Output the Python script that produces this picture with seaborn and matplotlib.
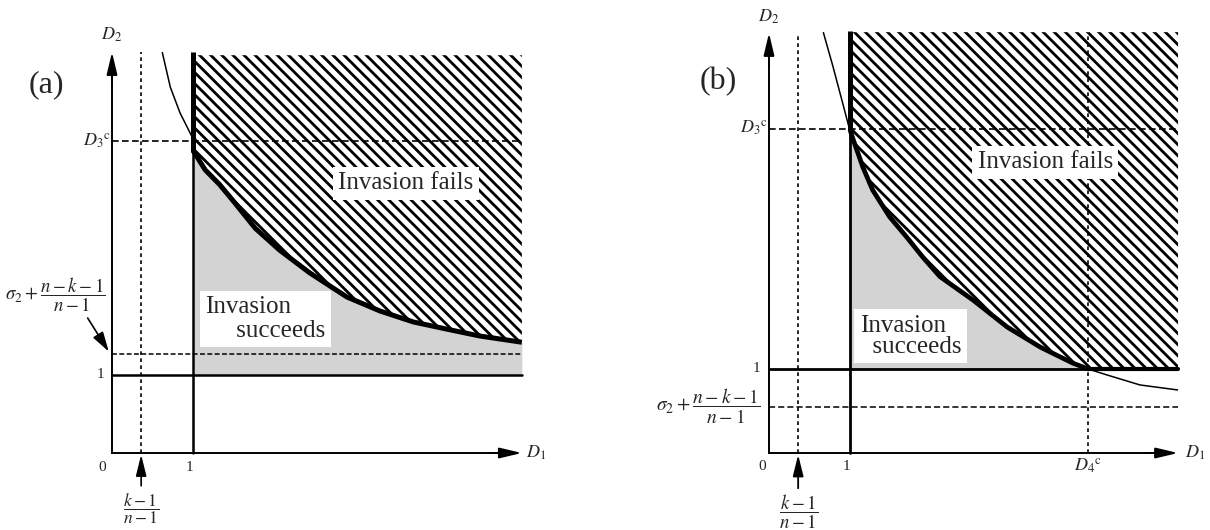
import matplotlib
matplotlib.use("Agg")
import matplotlib.pyplot as plt
import seaborn as sns
import pandas as pd

# ---------------- data ----------------
# panel (a)
a_thin_x = [0.62, 0.72, 0.84, 0.99]
a_thin_y = [5.14, 4.69, 4.36, 4.05]
a_thick_x = [1.00, 1.15, 1.33, 1.49, 1.77, 2.07, 2.44, 2.90, 3.31, 3.72, 4.17, 4.54, 5.06]
a_thick_y = [3.88, 3.63, 3.44, 3.24, 2.88, 2.60, 2.31, 2.00, 1.82, 1.68, 1.58, 1.50, 1.42]
a_D3c = 4.0
a_sigma = 1.27
a_kfrac = 0.36
a_xmax = 5.06
a_ymax = 5.14

# panel (b)
b_thin_x = [0.67, 0.79, 0.90, 0.99]
b_thin_y = [5.01, 4.60, 4.20, 3.87]
b_thick_x = [1.00, 1.04, 1.16, 1.28, 1.49, 1.70, 1.90, 2.11, 2.52, 2.94, 3.35, 3.75, 3.94]
b_thick_y = [3.85, 3.73, 3.40, 3.13, 2.81, 2.57, 2.33, 2.10, 1.82, 1.50, 1.26, 1.07, 1.00]
b_tail_x = [3.94, 4.17, 4.58, 5.05]
b_tail_y = [1.00, 0.93, 0.81, 0.75]
b_D3c = 3.86
b_D4c = 3.94
b_sigma = 0.55
b_kfrac = 0.36
b_xmax = 5.05
b_ymax = 5.0

# ---------------- style ----------------
sns.set_theme(style="white")
plt.rcParams["font.family"] = ["Liberation Serif", "DejaVu Serif"]
plt.rcParams["mathtext.fontset"] = "stix"
plt.rcParams["hatch.color"] = "black"
plt.rcParams["hatch.linewidth"] = 2.0

SERIF = ["Liberation Serif", "DejaVu Serif"]
STIPPLE = "#d3d3d3"
HATCH = "\\\\\\"

fig = plt.figure(figsize=(12.1, 5.3), dpi=100)
ax_a = fig.add_axes([0.0, 0.0, 0.5, 1.0])
ax_b = fig.add_axes([0.5, 0.0, 0.5, 1.0])
ax_a.set_xlim(-112 / 81, (605 - 112) / 81)
ax_a.set_ylim((453 - 530) / 78, 453 / 78)
ax_b.set_xlim((605 - 769) / 81, (1210 - 769) / 81)
ax_b.set_ylim((453 - 530) / 84, 453 / 84)


def setup_axes(ax, xmax, ymax):
    for s in ["top", "right"]:
        ax.spines[s].set_visible(False)
    for s in ["left", "bottom"]:
        ax.spines[s].set_position(("data", 0))
        ax.spines[s].set_linewidth(1.4)
        ax.spines[s].set_color("black")
    ax.spines["left"].set_bounds(0, ymax - 0.1)
    ax.spines["bottom"].set_bounds(0, xmax - 0.1)
    ax.set_xticks([])
    ax.set_yticks([])
    ax.set_facecolor("white")
    ap = dict(arrowstyle="-|>,head_length=1.35,head_width=0.32",
              mutation_scale=10, color="black", lw=1.4, shrinkA=0, shrinkB=0)
    ax.annotate("", xy=(0, ymax), xytext=(0, ymax - 0.4), arrowprops=ap)
    ax.annotate("", xy=(xmax, 0), xytext=(xmax - 0.4, 0), arrowprops=ap)


def curve(ax, xs, ys, lw, z=4):
    df = pd.DataFrame({"x": xs, "y": ys})
    sns.lineplot(data=df, x="x", y="y", ax=ax, color="black", lw=lw,
                 sort=False, estimator=None, zorder=z, solid_capstyle="butt")


DASH = (0, (4, 2))
DOT = (0, (2.2, 2))
SDASH = (0, (3.2, 1.6))

# ================= panel (a) =================
ax = ax_a
setup_axes(ax, a_xmax, a_ymax)
ax.fill_between(a_thick_x, a_thick_y, [a_ymax - 0.04] * len(a_thick_x),
                facecolor="white", edgecolor="black", hatch=HATCH, lw=0, zorder=1)
ax.fill_between(a_thick_x, [1] * len(a_thick_x), a_thick_y,
                facecolor=STIPPLE, lw=0, zorder=1)
ax.plot([0, a_xmax], [a_D3c, a_D3c], color="black", lw=1.2, ls=DASH, zorder=2)
ax.plot([0, a_xmax], [a_sigma, a_sigma], color="black", lw=1.1, ls=SDASH, zorder=2)
ax.plot([a_kfrac, a_kfrac], [0, a_ymax], color="black", lw=1.2, ls=DOT, zorder=2)
ax.plot([0, a_xmax], [1, 1], color="black", lw=1.8, zorder=3)
ax.plot([1, 1], [0, a_thick_y[0]], color="black", lw=1.8, zorder=3)
ax.plot([1, 1], [a_thick_y[0] - 0.02, a_ymax], color="black", lw=3.6, zorder=4,
        solid_capstyle="butt")
curve(ax, a_thin_x, a_thin_y, 1.1)
curve(ax, a_thick_x, a_thick_y, 3.6)
ax.text(-0.81, 4.72, "(a)", fontsize=23, family=SERIF, ha="center", va="center")
ax.text(0, 5.36, r"$D_2$", fontsize=13, ha="center", va="center")
ax.text(5.11, 0.0, r"$D_1$", fontsize=13, ha="left", va="center")
ax.text(-0.02, a_D3c, r"$D_3{}^{\mathrm{c}}$", fontsize=13, ha="right", va="center")
ax.text(-0.09, 1.0, "1", fontsize=11, family=SERIF, ha="right", va="center")
ax.text(-0.12, -0.19, "0", fontsize=11, family=SERIF, ha="center", va="center")
ax.text(0.96, -0.19, "1", fontsize=11, family=SERIF, ha="center", va="center")
ax.text(-0.70, 2.03, r"$\sigma_2 + \dfrac{n-k-1}{n-1}$", fontsize=13.5,
        ha="center", va="center")
ax.annotate("", xy=(-0.04, a_sigma + 0.03), xytext=(-0.30, 1.73),
            arrowprops=dict(arrowstyle="-|>,head_length=1.2,head_width=0.35",
                            mutation_scale=10, color="black", lw=1.2,
                            shrinkA=0, shrinkB=0))
ax.text(a_kfrac, -0.72, r"$\dfrac{k-1}{n-1}$", fontsize=12.5, ha="center", va="center")
ax.annotate("", xy=(a_kfrac, -0.02), xytext=(a_kfrac, -0.42),
            arrowprops=dict(arrowstyle="-|>,head_length=1.3,head_width=0.32",
                            mutation_scale=10, color="black", lw=1.2,
                            shrinkA=0, shrinkB=0))
ax.text(3.63, 3.46, "Invasion fails", fontsize=18, family=SERIF, ha="center",
        va="center", zorder=6,
        bbox=dict(facecolor="white", edgecolor="none", pad=4))
ax.text(1.15, 1.72, "Invasion\n     succeeds", fontsize=18, family=SERIF,
        ha="left", va="center", linespacing=1.08, zorder=6,
        bbox=dict(facecolor="white", edgecolor="none", pad=4))

# ================= panel (b) =================
ax = ax_b
setup_axes(ax, b_xmax, b_ymax)
hx = b_thick_x + [b_xmax]
hy = b_thick_y + [1.0]
ax.fill_between(hx, hy, [b_ymax + 0.01] * len(hx),
                facecolor="white", edgecolor="black", hatch=HATCH, lw=0, zorder=1)
ax.fill_between(b_thick_x, [1] * len(b_thick_x), b_thick_y,
                facecolor=STIPPLE, lw=0, zorder=1)
ax.plot([0, b_xmax - 0.03], [b_D3c, b_D3c], color="black", lw=1.2, ls=DASH, zorder=2)
ax.plot([0, b_xmax], [b_sigma, b_sigma], color="black", lw=1.1, ls=DASH, zorder=2)
ax.plot([b_kfrac, b_kfrac], [0, b_ymax], color="black", lw=1.2, ls=DOT, zorder=2)
ax.plot([b_D4c, b_D4c], [0, b_ymax], color="black", lw=1.2, ls=DOT, zorder=2)
ax.plot([0, b_D4c], [1, 1], color="black", lw=2.0, zorder=3)
ax.plot([b_D4c, b_xmax], [1, 1], color="black", lw=3.0, zorder=3)
ax.plot([1, 1], [0, b_D3c], color="black", lw=2.0, zorder=3)
ax.plot([1, 1], [b_D3c - 0.02, b_ymax + 0.02], color="black", lw=3.6, zorder=4,
        solid_capstyle="butt")
curve(ax, b_thin_x, b_thin_y, 1.1)
curve(ax, b_thick_x, b_thick_y, 3.4)
curve(ax, b_tail_x, b_tail_y, 1.1)
ax.text(-0.63, 4.42, "(b)", fontsize=23, family=SERIF, ha="center", va="center")
ax.text(0, 5.19, r"$D_2$", fontsize=13, ha="center", va="center")
ax.text(5.14, 0.0, r"$D_1$", fontsize=13, ha="left", va="center")
ax.text(-0.02, b_D3c, r"$D_3{}^{\mathrm{c}}$", fontsize=13, ha="right", va="center")
ax.text(b_D4c, -0.05, r"$D_4{}^{\mathrm{c}}$", fontsize=13, ha="center", va="top")
ax.text(-0.11, 1.0, "1", fontsize=11, family=SERIF, ha="right", va="center")
ax.text(-0.09, -0.155, "0", fontsize=11, family=SERIF, ha="center", va="center")
ax.text(0.96, -0.155, "1", fontsize=11, family=SERIF, ha="center", va="center")
ax.text(-0.10, b_sigma, r"$\sigma_2 + \dfrac{n-k-1}{n-1}$", fontsize=14,
        ha="right", va="center")
ax.text(b_kfrac, -0.70, r"$\dfrac{k-1}{n-1}$", fontsize=13.5, ha="center", va="center")
ax.annotate("", xy=(b_kfrac, -0.02), xytext=(b_kfrac, -0.42),
            arrowprops=dict(arrowstyle="-|>,head_length=1.3,head_width=0.32",
                            mutation_scale=10, color="black", lw=1.3,
                            shrinkA=0, shrinkB=0))
ax.text(3.41, 3.46, "Invasion fails", fontsize=18, family=SERIF, ha="center",
        va="center", zorder=6,
        bbox=dict(facecolor="white", edgecolor="none", pad=4))
ax.text(1.12, 1.39, "Invasion\n  succeeds", fontsize=18, family=SERIF,
        ha="left", va="center", linespacing=0.95, zorder=6,
        bbox=dict(facecolor="white", edgecolor="none", pad=4))

fig.savefig("out.png", dpi=100)
